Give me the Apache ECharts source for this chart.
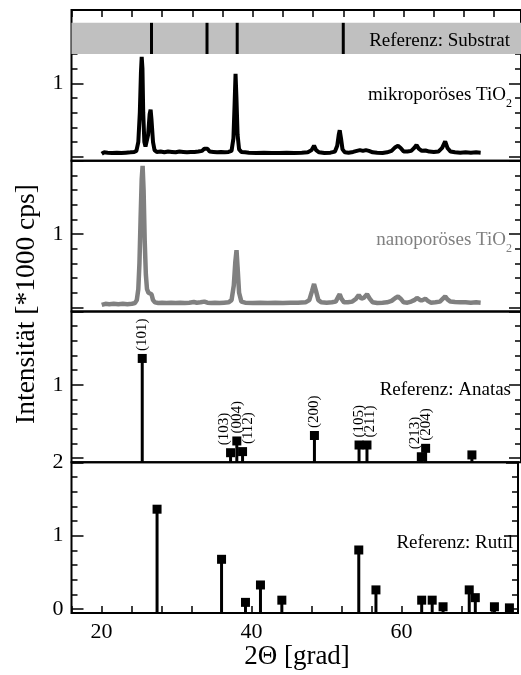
<!DOCTYPE html>
<html>
<head>
<meta charset="utf-8">
<script src="https://cdn.jsdelivr.net/npm/echarts@6/dist/echarts.min.js"></script>
<style>
  html, body { margin: 0; padding: 0; background: #fff; }
  #chart { width: 521px; height: 675px; }
</style>
</head>
<body>
<div id="chart"></div>
<script>
// Diffraction pattern of the microporous TiO2 film: [2Theta, intensity / 1000 cps]
const mikroporoes = [
  [20.0,0.04],[20.3,0.06],[20.8,0.055],[21.4,0.05],[22.0,0.055],[22.6,0.05],[23.2,0.055],
  [23.8,0.06],[24.3,0.065],[24.6,0.08],[24.85,0.2],[25.05,0.6],[25.2,1.15],[25.3,1.36],
  [25.4,1.2],[25.5,0.6],[25.65,0.2],[25.8,0.14],[25.95,0.15],[26.15,0.3],[26.35,0.58],
  [26.48,0.64],[26.6,0.5],[26.8,0.2],[27.0,0.09],[27.3,0.065],[27.8,0.07],[28.3,0.06],
  [28.8,0.07],[29.3,0.065],[29.8,0.06],[30.3,0.07],[30.8,0.065],[31.3,0.06],[31.8,0.065],
  [32.3,0.065],[32.8,0.07],[33.3,0.08],[33.6,0.11],[33.8,0.13],[34.0,0.11],[34.3,0.07],
  [34.8,0.065],[35.3,0.06],[35.8,0.065],[36.3,0.06],[36.8,0.065],[37.2,0.08],[37.45,0.25],
  [37.6,0.7],[37.73,1.13],[37.85,0.8],[38.0,0.3],[38.2,0.1],[38.5,0.065],[39.0,0.06],
  [39.5,0.055],[40.5,0.05],[41.5,0.055],[42.5,0.05],[43.5,0.05],[44.5,0.055],[45.5,0.05],
  [46.5,0.055],[47.3,0.06],[47.8,0.09],[48.13,0.15],[48.4,0.09],[48.8,0.06],[49.5,0.05],
  [50.3,0.055],[50.9,0.07],[51.2,0.15],[51.4,0.3],[51.53,0.36],[51.7,0.25],[51.9,0.1],
  [52.2,0.06],[52.7,0.055],[53.3,0.065],[53.8,0.08],[54.2,0.09],[54.6,0.08],[55.0,0.09],
  [55.4,0.08],[55.9,0.06],[56.5,0.055],[57.2,0.05],[57.8,0.06],[58.4,0.08],[58.9,0.13],
  [59.25,0.15],[59.6,0.12],[60.0,0.07],[60.5,0.07],[61.0,0.08],[61.4,0.12],[61.7,0.16],
  [62.0,0.11],[62.4,0.08],[62.9,0.085],[63.4,0.07],[64.0,0.065],[64.6,0.07],[65.1,0.12],
  [65.5,0.21],[65.8,0.12],[66.2,0.07],[66.8,0.06],[67.5,0.055],[68.2,0.06],[68.9,0.055],
  [69.6,0.06],[70.2,0.055]
];

// Diffraction pattern of the nanoporous TiO2 film
const nanoporoes = [
  [20.0,0.035],[20.5,0.05],[21.0,0.045],[21.6,0.05],[22.2,0.045],[22.8,0.05],[23.4,0.045],
  [24.0,0.05],[24.4,0.06],[24.65,0.1],[24.85,0.25],[25.0,0.6],[25.15,1.2],[25.3,1.75],
  [25.42,1.93],[25.55,1.6],[25.7,0.9],[25.85,0.45],[26.0,0.25],[26.2,0.2],[26.45,0.22],
  [26.6,0.18],[26.8,0.1],[27.05,0.07],[27.5,0.06],[28.0,0.065],[28.6,0.06],[29.2,0.065],
  [29.8,0.06],[30.4,0.065],[31.0,0.06],[31.6,0.065],[32.2,0.075],[32.6,0.065],[33.1,0.07],
  [33.6,0.08],[34.0,0.065],[34.5,0.06],[35.0,0.065],[35.6,0.06],[36.2,0.065],[36.8,0.07],
  [37.2,0.1],[37.5,0.3],[37.7,0.62],[37.86,0.78],[38.0,0.55],[38.2,0.2],[38.5,0.08],
  [39.0,0.065],[40.0,0.06],[41.0,0.065],[42.0,0.06],[43.0,0.065],[44.0,0.06],[45.0,0.065],
  [46.0,0.065],[47.0,0.07],[47.5,0.1],[47.85,0.22],[48.13,0.32],[48.4,0.22],[48.7,0.1],
  [49.1,0.07],[49.8,0.065],[50.5,0.07],[51.0,0.08],[51.3,0.14],[51.53,0.18],[51.75,0.12],
  [52.1,0.07],[52.6,0.07],[53.2,0.08],[53.7,0.12],[54.05,0.17],[54.4,0.12],[54.7,0.13],
  [55.15,0.18],[55.5,0.12],[55.9,0.07],[56.5,0.06],[57.2,0.065],[57.8,0.07],[58.4,0.09],
  [58.9,0.13],[59.25,0.15],[59.6,0.12],[60.0,0.07],[60.5,0.065],[61.0,0.08],[61.4,0.1],
  [61.76,0.13],[62.2,0.1],[62.5,0.1],[62.87,0.12],[63.2,0.09],[63.6,0.065],[64.2,0.07],
  [64.8,0.08],[65.2,0.12],[65.5,0.15],[65.8,0.11],[66.2,0.08],[66.8,0.075],[67.5,0.07],
  [68.2,0.07],[68.9,0.065],[69.6,0.07],[70.2,0.065]
];

// Substrate reflections
const substratPos = [26.6, 33.95, 37.95, 52.0];

// Anatase reference lines
const anatasPos = [25.37, 37.07, 37.9, 38.66, 48.18, 54.09, 55.14, 62.34, 62.91, 69.04];
const anatasInt = [1.36, 0.075, 0.235, 0.09, 0.31, 0.18, 0.18, 0.02, 0.135, 0.045];
const anatasHkl = ['(101)', '(103)', '(004)', '(112)', '(200)', '(105)', '(211)', '(213)', '(204)', ''];

// Rutile reference lines
const rutilPos = [27.41, 36.01, 39.2, 41.2, 44.05, 54.31, 56.6, 62.7, 64.1, 65.55, 69.04, 69.85, 72.4, 74.4];
const rutilInt = [1.36, 0.677, 0.09, 0.327, 0.12, 0.804, 0.26, 0.12, 0.12, 0.03, 0.26, 0.154, 0.03, 0.015];

// Tick labels
const xTickLabels = [20, 40, 60];
const yMajorTicks = [0, 1, 2];
const yMinorTicks = [0.2, 0.4, 0.6, 0.8, 1.2, 1.4, 1.6, 1.8];
const yLabelsUpper = [1];
const yLabelsLowest = [0, 1, 2];

// Layout
const FONT = 'Liberation Serif';
const GRID_LEFT = 71.5, GRID_WIDTH = 450, GRID_TOP = 10, PANEL_H = 150.75;
const X_MIN = 16, X_MAX = 16 + 450 / 7.5575;
const Y_MIN = -0.055, Y_MAX = 2.0;
const STRIP_LO = 1.40, STRIP_HI = 1.825;
const GREY = '#808080';

const chart = echarts.init(document.getElementById('chart'), null, { renderer: 'canvas' });

const grids = [0, 1, 2, 3].map(i => ({
  left: GRID_LEFT, width: GRID_WIDTH, top: GRID_TOP + i * PANEL_H, height: PANEL_H,
  show: true, borderColor: '#000', borderWidth: 2, backgroundColor: 'transparent'
}));

const xAxes = [0, 1, 2, 3].map(i => ({
  type: 'value', gridIndex: i, min: X_MIN, max: X_MAX, interval: 4,
  position: i === 0 ? 'top' : 'bottom',
  axisLine: { show: false, onZero: false },
  splitLine: { show: false },
  axisTick: { show: i === 0 || i === 3, inside: true, length: 7, lineStyle: { color: '#000', width: 1.5 } },
  axisLabel: {
    show: i === 3, margin: 8, fontFamily: FONT, fontSize: 22, color: '#000',
    formatter: v => (xTickLabels.indexOf(v) >= 0 ? String(v) : '')
  }
}));

const yAxes = [];
[0, 1, 2, 3].forEach(i => {
  const labels = i === 3 ? yLabelsLowest : yLabelsUpper;
  const base = {
    type: 'value', gridIndex: i, min: Y_MIN, max: Y_MAX,
    axisLine: { show: false, onZero: false }, splitLine: { show: false }
  };
  ['left', 'right'].forEach(side => {
    yAxes.push(Object.assign({}, base, {
      position: side,
      axisTick: { inside: true, length: 12, customValues: yMajorTicks, lineStyle: { color: '#000', width: 1.5 } },
      axisLabel: {
        show: side === 'left', customValues: labels, margin: 8,
        fontFamily: FONT, fontSize: 22, color: '#000'
      }
    }));
    yAxes.push(Object.assign({}, base, {
      position: side,
      axisTick: { inside: true, length: 6, customValues: yMinorTicks, lineStyle: { color: '#000', width: 1.5 } },
      axisLabel: { show: false }
    }));
  });
});
// first y axis of each panel
const yIdx = i => i * 4;

function stickItem(lineWidth) {
  return function (params, api) {
    const x = api.value(0);
    const top = api.coord([x, api.value(1)]);
    const bottom = api.coord([x, api.value(2)]);
    return {
      type: 'line',
      shape: { x1: top[0], y1: top[1], x2: bottom[0], y2: bottom[1] },
      style: { stroke: '#000', lineWidth: lineWidth }
    };
  };
}

// sideways nudge (px) of crowded Miller-index labels; the label frame is rotated,
// so its local y direction points to the right on screen
const hklShift = { '(103)': -6, '(112)': 5, '(211)': 3, '(213)': -6 };

const series = [
  {
    type: 'line', xAxisIndex: 0, yAxisIndex: yIdx(0), data: mikroporoes,
    showSymbol: false, lineStyle: { color: '#000', width: 4 }, z: 3,
    markArea: {
      silent: true, itemStyle: { color: '#c0c0c0' },
      data: [[{ coord: [X_MIN, STRIP_LO] }, { coord: [X_MAX, STRIP_HI] }]]
    }
  },
  {
    type: 'custom', xAxisIndex: 0, yAxisIndex: yIdx(0),
    data: substratPos.map(p => [p, STRIP_HI, STRIP_LO]),
    renderItem: stickItem(3), z: 4
  },
  {
    type: 'line', xAxisIndex: 1, yAxisIndex: yIdx(1), data: nanoporoes,
    showSymbol: false, lineStyle: { color: GREY, width: 4.5 }, z: 3
  },
  {
    type: 'custom', xAxisIndex: 2, yAxisIndex: yIdx(2),
    data: anatasPos.map((p, k) => [p, anatasInt[k], Y_MIN]),
    renderItem: stickItem(3), clip: false, z: 4
  },
  {
    type: 'scatter', xAxisIndex: 2, yAxisIndex: yIdx(2),
    symbol: 'rect', symbolSize: 9, itemStyle: { color: '#000', opacity: 1 }, z: 5,
    data: anatasPos.map((p, k) => ({
      name: anatasHkl[k], value: [p, anatasInt[k]],
      label: { offset: [0, hklShift[anatasHkl[k]] || 0] }
    })),
    label: {
      show: true, position: 'top', distance: 3, rotate: 90, align: 'left', verticalAlign: 'middle',
      formatter: '{b}', fontFamily: FONT, fontSize: 15, color: '#000', textBorderWidth: 0
    }
  },
  {
    type: 'custom', xAxisIndex: 3, yAxisIndex: yIdx(3),
    data: rutilPos.map((p, k) => [p, rutilInt[k], Y_MIN]),
    renderItem: stickItem(3), clip: false, z: 4
  },
  {
    type: 'scatter', xAxisIndex: 3, yAxisIndex: yIdx(3),
    symbol: 'rect', symbolSize: 9, itemStyle: { color: '#000', opacity: 1 }, z: 5,
    data: rutilPos.map((p, k) => [p, rutilInt[k]])
  }
];

const graphic = [
  { type: 'text', x: 510, y: 41, z: 10,
    style: { text: 'Referenz: Substrat', font: '19px "' + FONT + '"', fill: '#000', align: 'right', verticalAlign: 'middle' } },
  { type: 'text', x: 512, y: 95, z: 10,
    style: { text: '{m|mikroporöses TiO}{s|2}', align: 'right', verticalAlign: 'middle', fill: '#000',
      rich: { m: { fontFamily: FONT, fontSize: 19, fill: '#000' }, s: { fontFamily: FONT, fontSize: 12, fill: '#000', padding: [18, 0, 0, 0] } } } },
  { type: 'text', x: 512, y: 240, z: 10,
    style: { text: '{m|nanoporöses TiO}{s|2}', align: 'right', verticalAlign: 'middle', fill: GREY,
      rich: { m: { fontFamily: FONT, fontSize: 19, fill: GREY }, s: { fontFamily: FONT, fontSize: 12, fill: GREY, padding: [18, 0, 0, 0] } } } },
  { type: 'text', x: 511, y: 390, z: 10,
    style: { text: 'Referenz: Anatas', font: '19px "' + FONT + '"', fill: '#000', align: 'right', verticalAlign: 'middle' } },
  { type: 'text', x: 513, y: 543, z: 10,
    style: { text: 'Referenz: Rutil', font: '19px "' + FONT + '"', fill: '#000', align: 'right', verticalAlign: 'middle' } },
  { type: 'text', x: 27, y: 304, rotation: Math.PI / 2, z: 10,
    style: { text: 'Intensität [*1000 cps]', font: '27.5px "' + FONT + '"', fill: '#000', align: 'center', verticalAlign: 'middle' } },
  { type: 'text', x: 297, y: 657, z: 10,
    style: { text: '2Θ [grad]', font: '27px "' + FONT + '"', fill: '#000', align: 'center', verticalAlign: 'middle' } }
];

chart.setOption({
  animation: false,
  backgroundColor: '#fff',
  grid: grids,
  xAxis: xAxes,
  yAxis: yAxes,
  series: series,
  graphic: graphic
});
</script>
</body>
</html>
